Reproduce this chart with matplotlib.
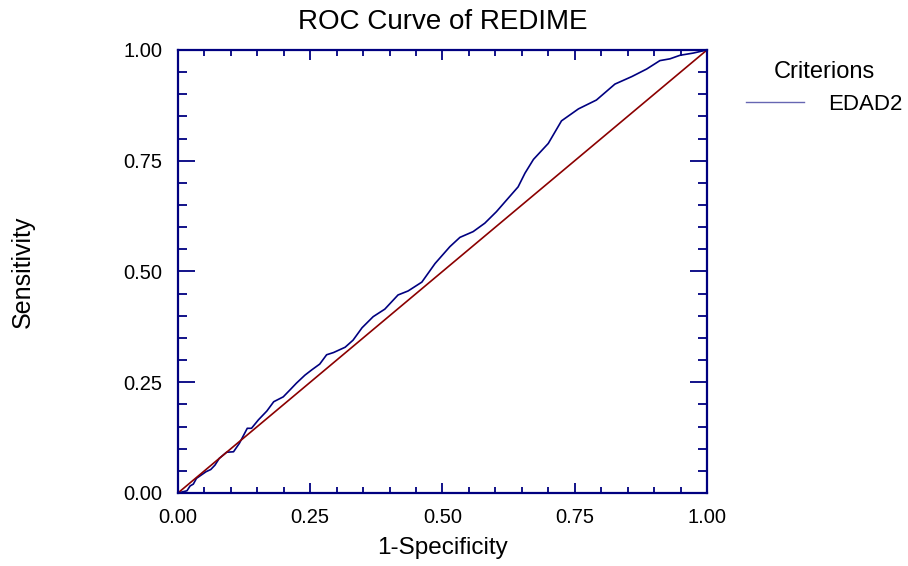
import numpy as np
import matplotlib
matplotlib.use("Agg")
import matplotlib.pyplot as plt
from matplotlib.ticker import MultipleLocator, FormatStrFormatter

plt.rcParams["font.family"] = ["Liberation Sans", "DejaVu Sans"]

# -----------------------------
# ROC points for EDAD2
# -----------------------------
fpr = [0.000, 0.017, 0.023, 0.029, 0.035, 0.053, 0.062, 0.070, 0.078, 0.092,
       0.105, 0.116, 0.131, 0.139, 0.152, 0.168, 0.181, 0.199, 0.212, 0.224,
       0.240, 0.253, 0.268, 0.281, 0.294, 0.316, 0.331, 0.348, 0.369, 0.391,
       0.416, 0.435, 0.461, 0.486, 0.514, 0.533, 0.558, 0.580, 0.602, 0.621,
       0.643, 0.656, 0.672, 0.700, 0.725, 0.757, 0.791, 0.826, 0.858, 0.886,
       0.911, 0.930, 0.949, 0.974, 1.000]
tpr = [0.000, 0.005, 0.016, 0.020, 0.033, 0.048, 0.053, 0.063, 0.078, 0.092,
       0.093, 0.112, 0.146, 0.146, 0.165, 0.185, 0.206, 0.217, 0.233, 0.248,
       0.266, 0.278, 0.291, 0.312, 0.317, 0.329, 0.345, 0.373, 0.398, 0.415,
       0.447, 0.456, 0.476, 0.518, 0.556, 0.577, 0.590, 0.609, 0.635, 0.661,
       0.691, 0.722, 0.753, 0.789, 0.840, 0.867, 0.887, 0.923, 0.940, 0.957,
       0.976, 0.980, 0.988, 0.993, 1.000]
diag = [0.0, 1.0]

NAVY = "#000080"
DARKRED = "#8b0000"

fig = plt.figure(figsize=(9.08, 5.66), dpi=100)
ax = fig.add_axes([0.196, 0.129, 0.5826, 0.7827])

ax.plot(fpr, tpr, color=NAVY, lw=1.2, label="EDAD2")
ax.plot(diag, diag, color=DARKRED, lw=1.2)

ax.set_xlim(0, 1)
ax.set_ylim(0, 1)

# -----------------------------
# Axes styling
# -----------------------------
for side in ax.spines.values():
    side.set_color(NAVY)
    side.set_linewidth(1.6)

ax.xaxis.set_major_locator(MultipleLocator(0.25))
ax.xaxis.set_minor_locator(MultipleLocator(0.05))
ax.yaxis.set_major_locator(MultipleLocator(0.25))
ax.yaxis.set_minor_locator(MultipleLocator(0.05))
ax.xaxis.set_major_formatter(FormatStrFormatter("%.2f"))
ax.yaxis.set_major_formatter(FormatStrFormatter("%.2f"))

ax.tick_params(axis="both", which="both", direction="in", color=NAVY,
               width=1.3, labelsize=14.5, labelcolor="black",
               top=True, right=True)
ax.tick_params(axis="x", which="major", length=7.5, pad=11)
ax.tick_params(axis="x", which="minor", length=4)
ax.tick_params(axis="y", which="major", length=12, pad=11)
ax.tick_params(axis="y", which="minor", length=6.5)

ax.set_title("ROC Curve of REDIME", fontsize=20, pad=15)
ax.set_xlabel("1-Specificity", fontsize=17.5, labelpad=7)
ax.set_ylabel("Sensitivity", fontsize=18, labelpad=64)

leg = ax.legend(title="Criterions", loc="upper left",
                bbox_to_anchor=(1.036, 1.02), frameon=False,
                fontsize=16, title_fontsize=17,
                handlelength=2.6, handletextpad=1.1)
leg.get_lines()[0].set_linewidth(1.0)
leg.get_lines()[0].set_alpha(0.6)

plt.savefig("out.png", dpi=100)
